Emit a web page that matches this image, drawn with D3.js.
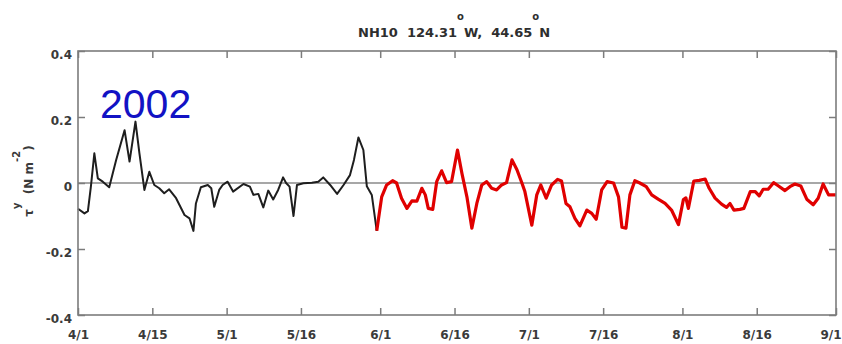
<!DOCTYPE html>
<html>
<head>
<meta charset="utf-8">
<script src="https://cdn.jsdelivr.net/npm/d3@7"></script>
<style>
  body { margin: 0; background: #fff; }
  svg { display: block; }
</style>
</head>
<body>
<svg id="chart" width="842" height="344"></svg>
<script>
// Meridional wind stress at NH10, spring/summer 2002.
// Days are counted from April 1; stress in N m^-2.
const blackDays = [0, 1.3, 2.0, 2.6, 3.3, 4.0, 5.0, 6.3, 7.7, 9.4, 10.4, 11.6, 12.4, 13.4, 14.4, 15.4, 16.4, 17.4, 18.4, 19.8,
  21.5, 22.5, 23.3, 23.8, 24.8, 26.2, 26.9, 27.5, 28.5, 29.2, 30.2, 31.3, 33.4, 34.7, 35.4, 36.4, 37.4, 38.4, 39.4, 40.4,
  41.4, 42.0, 42.7, 43.5, 44.2, 45.5, 47.2, 48.5, 49.5, 50.9, 52.3, 53.6, 54.9, 55.7, 56.6, 57.6, 58.3, 59.3, 60.3];
const blackTau = [-0.078, -0.092, -0.085, -0.011, 0.09, 0.014, 0.004, -0.013, 0.07, 0.16, 0.065, 0.186, 0.09, -0.021, 0.034, -0.006, -0.016, -0.031, -0.019, -0.046,
  -0.097, -0.107, -0.145, -0.062, -0.013, -0.006, -0.016, -0.072, -0.021, -0.006, 0.004, -0.026, -0.003, -0.011, -0.036, -0.033, -0.074, -0.023, -0.05, -0.021,
  0.017, 0.0, -0.011, -0.10, -0.006, -0.001, 0.001, 0.004, 0.017, -0.006, -0.033, -0.006, 0.024, 0.07, 0.138, 0.10, -0.01, -0.036, -0.145];

const redDays = [60.3, 61.3, 62.3, 63.5, 64.3, 65.3, 66.4, 67.4, 68.4, 69.4, 70.1, 70.7, 71.6, 72.4, 73.4, 74.4, 75.4, 76.6, 77.5, 78.5,
  79.5, 80.5, 81.5, 82.5, 83.5, 84.5, 85.5, 86.5, 87.6, 88.6, 89.6, 90.2, 91.6, 92.6, 93.4, 94.5, 95.6, 96.8, 97.6, 98.5,
  99.3, 100.3, 101.3, 102.7, 103.7, 104.6, 105.7, 106.8, 108.1, 109.1, 109.8, 110.6, 111.4, 112.4, 113.4, 114.7, 115.8, 117.1, 118.5, 119.8,
  121.2, 122.2, 122.7, 123.2, 124.3, 125.4, 126.6, 127.4, 128.6, 129.9, 130.9, 131.6, 132.4, 133.6, 134.4, 135.7, 136.7, 137.5, 138.3, 139.3,
  140.4, 141.4, 142.7, 143.7, 144.7, 145.9, 147.1, 148.4, 149.4, 150.4, 151.5, 152.5, 153];
const redTau = [-0.145, -0.042, -0.006, 0.007, 0.0, -0.046, -0.077, -0.054, -0.055, -0.016, -0.036, -0.077, -0.08, 0.004, 0.037, 0.001, 0.004, 0.10, 0.029, -0.042,
  -0.137, -0.062, -0.006, 0.004, -0.016, -0.021, -0.006, 0.001, 0.07, 0.04, 0.0, -0.026, -0.128, -0.036, -0.006, -0.046, -0.006, 0.011, 0.006, -0.062,
  -0.072, -0.107, -0.13, -0.082, -0.092, -0.11, -0.021, 0.004, 0.0, -0.042, -0.134, -0.137, -0.036, 0.007, 0.0, -0.011, -0.036, -0.049, -0.062, -0.082,
  -0.126, -0.05, -0.045, -0.077, 0.006, 0.008, 0.012, -0.016, -0.046, -0.064, -0.074, -0.062, -0.082, -0.08, -0.077, -0.026, -0.026, -0.039, -0.019, -0.019,
  0.001, -0.009, -0.023, -0.011, -0.003, -0.009, -0.049, -0.066, -0.046, -0.003, -0.036, -0.036, -0.036];

const xTickDays = [0, 15, 30, 45, 61, 76, 91, 106, 122, 137, 153];
const xTickLabels = ["4/1", "4/15", "5/1", "5/16", "6/1", "6/16", "7/1", "7/16", "8/1", "8/16", "9/1"];
const yTicks = [-0.4, -0.2, 0, 0.2, 0.4];
const yTickLabels = ["-0.4", "-0.2", "0", "0.2", "0.4"];

const svg = d3.select("#chart");
const frame = { left: 78, right: 836, top: 51, bottom: 315 };
const axisColor = "#7c7c7c";
const labelColor = "#3a3a3a";
const tickFont = "'DejaVu Sans', sans-serif";

const x = d3.scaleLinear().domain([0, 153]).range([frame.left, frame.right]);
const y = d3.scaleLinear().domain([-0.4, 0.4]).range([frame.bottom, frame.top]);

// zero reference line
svg.append("line")
  .attr("x1", x(0)).attr("x2", x(153))
  .attr("y1", y(0)).attr("y2", y(0))
  .attr("stroke", "#8a8a8a").attr("stroke-width", 1.6);

// wind stress traces
const line = d3.line().x(d => x(d[0])).y(d => y(d[1]));
const blackPts = blackDays.map((d, i) => [d, blackTau[i]]);
const redPts = redDays.map((d, i) => [d, redTau[i]]);

svg.append("path").datum(blackPts)
  .attr("d", line)
  .attr("fill", "none").attr("stroke", "#1e1e1e")
  .attr("stroke-width", 2).attr("stroke-linejoin", "round");

svg.append("path").datum(redPts)
  .attr("d", line)
  .attr("fill", "none").attr("stroke", "#e00000")
  .attr("stroke-width", 3.2).attr("stroke-linejoin", "round");

// axes with inward ticks
function styleAxis(g) {
  g.select(".domain").remove();
  g.selectAll(".tick line").attr("stroke", axisColor).attr("stroke-width", 1.5);
  g.selectAll(".tick text")
    .attr("fill", labelColor)
    .attr("font-family", tickFont)
    .attr("font-weight", "bold")
    .attr("font-size", 12);
}

svg.append("g")
  .attr("transform", `translate(0,${frame.bottom})`)
  .call(d3.axisBottom(x).tickValues(xTickDays)
    .tickFormat((d, i) => xTickLabels[i])
    .tickSizeInner(-7).tickSizeOuter(0).tickPadding(15))
  .call(styleAxis)
  // keep the last date label inside the canvas edge
  .call(g => g.selectAll(".tick text").filter((d, i, n) => i === n.length - 1)
    .attr("text-anchor", "end").attr("x", 5));

svg.append("g")
  .attr("transform", `translate(0,${frame.top})`)
  .call(d3.axisTop(x).tickValues(xTickDays).tickFormat("")
    .tickSizeInner(-7).tickSizeOuter(0))
  .call(styleAxis);

svg.append("g")
  .attr("transform", `translate(${frame.left},0)`)
  .call(d3.axisLeft(y).tickValues(yTicks)
    .tickFormat((d, i) => yTickLabels[i])
    .tickSizeInner(-7).tickSizeOuter(0).tickPadding(6))
  .call(styleAxis)
  .call(g => g.selectAll(".tick text").attr("dy", "0.62em"));

svg.append("g")
  .attr("transform", `translate(${frame.right},0)`)
  .call(d3.axisRight(y).tickValues(yTicks).tickFormat("")
    .tickSizeInner(-7).tickSizeOuter(0))
  .call(styleAxis);

// plot frame
svg.append("rect")
  .attr("x", frame.left).attr("y", frame.top)
  .attr("width", frame.right - frame.left)
  .attr("height", frame.bottom - frame.top)
  .attr("fill", "none").attr("stroke", axisColor).attr("stroke-width", 1.6);

// title with raised degree marks
const title = svg.append("text")
  .attr("x", 358).attr("y", 37)
  .attr("fill", "#2e2e2e")
  .attr("font-family", tickFont)
  .attr("font-weight", "bold")
  .attr("font-size", 13)
  .style("white-space", "pre");
title.append("tspan").text("NH10  124.31");
title.append("tspan").attr("dy", -17).attr("font-size", 10).text("o");
title.append("tspan").attr("dy", 17).text("W,  44.65");
title.append("tspan").attr("dy", -17).attr("font-size", 10).text("o");
title.append("tspan").attr("dy", 17).text("N");

// y-axis label: tau^y (N m^-2)
const ylab = svg.append("text")
  .attr("transform", `translate(33,${y(0) - 2}) rotate(-90)`)
  .attr("text-anchor", "middle")
  .attr("fill", labelColor)
  .attr("font-family", tickFont)
  .attr("font-weight", "bold")
  .attr("font-size", 12)
  .style("white-space", "pre");
ylab.append("tspan").text("τ");
ylab.append("tspan").attr("dy", -13).attr("font-size", 10).text("y");
ylab.append("tspan").attr("dy", 13).text("  (N m");
ylab.append("tspan").attr("dy", -13).attr("font-size", 10).text("-2");
ylab.append("tspan").attr("dy", 13).text(")");

// year tag
svg.append("text")
  .attr("x", 100).attr("y", 118)
  .attr("fill", "#1212c4")
  .attr("font-family", "'Liberation Sans', Arial, sans-serif")
  .attr("font-size", 41)
  .text("2002");
</script>
</body>
</html>
